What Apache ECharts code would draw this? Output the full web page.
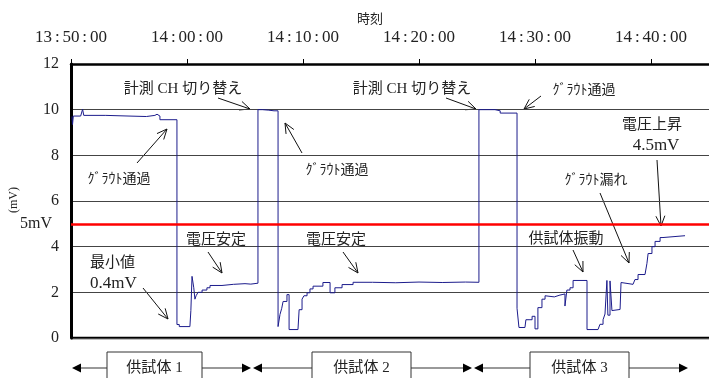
<!DOCTYPE html>
<html><head><meta charset="utf-8">
<script src="https://cdn.jsdelivr.net/npm/echarts@6/dist/echarts.min.js"></script>
<style>html,body{margin:0;padding:0;background:#fff}#c{width:709px;height:378px}</style>
</head><body><div id="c"></div>
<script>
// ---- data ----
const times = [
 "13:50:05","13:50:08","13:50:12","13:50:50","13:51:00","13:51:06","13:53:00","13:55:00","13:56:30","13:57:14","13:57:25","13:57:40",
 "13:59:08","13:59:20","14:00:15","14:00:20","14:00:26","14:00:35","14:00:41","14:00:47","14:00:57","14:01:18","14:01:43","14:01:59",
 "14:03:01","14:03:10","14:04:00","14:05:00","14:05:30",
 "14:06:07","14:06:30","14:07:00","14:07:30",
 "14:07:51","14:08:01","14:08:10","14:08:17","14:08:37","14:08:48","14:09:34","14:09:40","14:09:55","14:10:05","14:10:21","14:10:36",
 "14:10:52","14:11:43","14:12:20","14:12:45","14:13:22","14:14:19","14:16:00","14:18:00","14:20:00","14:22:00","14:24:00",
 "14:25:10","14:26:33","14:27:00",
 "14:28:27","14:28:37","14:29:08","14:29:13","14:29:34","14:29:45","14:30:00","14:30:15","14:30:36","14:30:52","14:31:02","14:31:40",
 "14:32:09","14:32:20","14:32:35","14:32:45","14:33:01","14:33:17","14:34:29","14:35:26","14:35:36","14:35:52","14:36:02","14:36:12",
 "14:36:17","14:36:28","14:36:38","14:36:43","14:37:20","14:37:25","14:37:35","14:38:27","14:38:37","14:38:53","14:39:29","14:39:39",
 "14:39:45","14:40:05","14:40:21","14:40:47","14:41:02","14:42:56"
];
const values = [
 9.70,9.35,9.72,9.75,10.02,9.75,9.72,9.70,9.75,9.80,9.72,9.56,
 0.59,0.50,0.55,1.20,2.70,2.20,1.70,1.85,2.00,2.10,2.20,2.30,
 2.30,2.35,2.38,2.36,2.40,
 10.00,9.98,9.95,9.95,
 0.50,1.03,1.30,1.60,1.90,0.37,0.40,1.24,1.70,1.85,1.98,2.15,
 2.27,2.43,1.98,2.20,2.34,2.44,2.42,2.45,2.43,2.45,2.44,
 10.00,9.95,9.85,
 1.30,0.46,0.46,0.80,0.80,0.95,0.40,1.33,1.70,1.85,1.80,1.88,
 1.90,1.93,1.40,2.10,2.20,2.52,0.37,0.45,0.60,0.80,1.05,2.52,
 1.00,2.50,1.20,1.25,1.30,2.43,2.35,2.40,2.56,2.78,2.85,3.27,
 3.70,4.00,4.23,4.40,4.48,4.50
];
const thresholdValue = 5;
const xTickStart = "13:50:00", xEnd = "14:45:00";
const yTicks = [0, 2, 4, 6, 8, 10, 12];

function toSec(s){const p=s.split(":").map(Number);return p[0]*3600+p[1]*60+p[2];}
function fmt(v){const h=Math.floor(v/3600),m=Math.floor(v%3600/60),s=v%60;const z=n=>String(n).padStart(2,"0");return [z(h),z(m),z(s)].join("\u2006:\u2006");}

const SERIF = "'Liberation Serif','Noto Sans CJK JP',serif";
const TXT = "#222";

function txt(x,y,text,size,align){return {type:'text',x:x,y:y,style:{text:text,fill:TXT,font:size+"px "+SERIF,textAlign:align||'center',textVerticalAlign:'middle'},silent:true};}
function arrow(x1,y1,x2,y2){
  const a=Math.atan2(y2-y1,x2-x1),L=11,w=0.42;
  const h1=[x2-L*Math.cos(a-w),y2-L*Math.sin(a-w)],h2=[x2-L*Math.cos(a+w),y2-L*Math.sin(a+w)];
  return [
    {type:'line',shape:{x1:x1,y1:y1,x2:x2,y2:y2},style:{stroke:'#111',lineWidth:1},silent:true},
    {type:'polyline',shape:{points:[h1,[x2,y2],h2]},style:{stroke:'#111',lineWidth:1,fill:null},silent:true}
  ];
}
function tri(tipX,y,dir){const s=9,h=4.5;return {type:'polygon',shape:{points:[[tipX,y],[tipX-dir*s,y-h],[tipX-dir*s,y+h]]},style:{fill:'#000'},silent:true};}
function hline(x1,x2,y){return {type:'line',shape:{x1:x1,y1:y,x2:x2,y2:y},style:{stroke:'#999',lineWidth:2},silent:true};}
function box(x1,x2,label){return [{type:'rect',shape:{x:x1,y:352,width:x2-x1,height:40},style:{fill:'#fff',stroke:'#333',lineWidth:1},silent:true},txt((x1+x2)/2,368,label,15)];}

const graphics = [].concat(
  [txt(370,20,"時刻",13)],
  [{type:'text',x:14,y:200,rotation:Math.PI/2,style:{text:"(mV)",fill:TXT,font:"12px "+SERIF,textAlign:'center',textVerticalAlign:'middle'},silent:true}],
  [txt(36,224,"5mV",16)],
  [txt(183,89,"計測 CH 切り替え",15)], arrow(218,98,250,109),
  [txt(412,89,"計測 CH 切り替え",15)], arrow(446,98,476,109),
  [txt(584,90,"ｸﾞﾗｳﾄ通過",14)], arrow(541,96,524,109),
  [txt(119,179,"ｸﾞﾗｳﾄ通過",14)], arrow(137,163,167,129),
  [txt(337,170,"ｸﾞﾗｳﾄ通過",14)], arrow(302,153,285,123),
  [txt(652,125,"電圧上昇",15)],[txt(656,146,"4.5mV",17)], arrow(657,160,661,226),
  [txt(596,180,"ｸﾞﾗｳﾄ漏れ",14)], arrow(600,193,629,263),
  [txt(216,240,"電圧安定",15)], arrow(208,252,222,273),
  [txt(336,240,"電圧安定",15)], arrow(343,252,358,273),
  [txt(90,263,"最小値",15,'left')],[txt(90,284,"0.4mV",17,'left')], arrow(143,288,168,319),
  [txt(566,239,"供試体振動",15)], arrow(573,250,583,272),
  [hline(76,107,368),hline(202,246,368),hline(258,312,368),hline(411,468,368),hline(479,530,368),hline(629,683,368)],
  box(107,202,"供試体 1"),box(312,411,"供試体 2"),box(530,629,"供試体 3"),
  [tri(72,368,-1),tri(251,368,1),tri(253,368,-1),tri(472,368,1),tri(474,368,-1),tri(688,368,1)],
  [{type:'line',shape:{x1:71,y1:338,x2:709,y2:338},style:{stroke:'#000',lineWidth:2.5},silent:true}]
);

const chart = echarts.init(document.getElementById('c'));
chart.setOption({
  animation:false,
  backgroundColor:'#fff',
  grid:{left:71,right:0,top:64,bottom:40},
  xAxis:{type:'value',position:'top',min:toSec(xTickStart),max:toSec(xEnd),interval:600,
    axisLine:{onZero:false,lineStyle:{color:'#000',width:2.5}},
    axisTick:{show:true,length:5,inside:false,lineStyle:{color:'#000',width:1}},
    axisLabel:{formatter:v=>fmt(v),fontSize:17,fontFamily:SERIF,color:TXT,margin:18,showMaxLabel:false},
    splitLine:{show:false}},
  yAxis:{type:'value',min:yTicks[0],max:yTicks[yTicks.length-1],interval:2,
    axisLine:{show:true,lineStyle:{color:'#000',width:3}},
    axisTick:{show:false},
    axisLabel:{fontSize:16,fontFamily:SERIF,color:TXT,margin:12},
    splitLine:{show:true,lineStyle:{color:'#444',width:1}}},
  series:[{type:'line',step:'end',symbol:'none',
    data:times.map((t,i)=>[toSec(t),values[i]]),
    lineStyle:{color:'#1c1c8c',width:1},
    markLine:{silent:true,symbol:'none',label:{show:false},lineStyle:{color:'#ff0000',width:2.5,type:'solid'},data:[{yAxis:thresholdValue}]}
  }],
  graphic:graphics
});
</script></body></html>
